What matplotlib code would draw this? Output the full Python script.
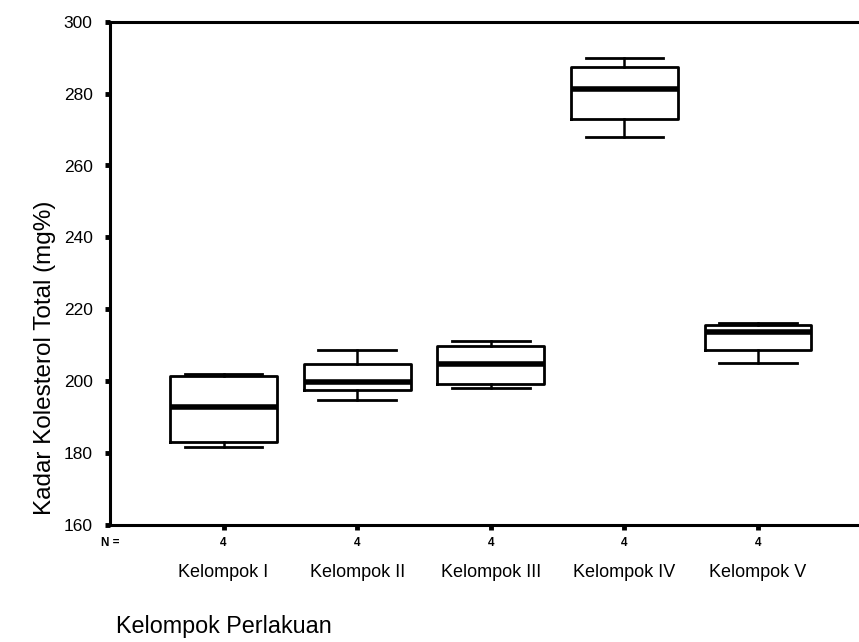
import matplotlib
matplotlib.use("Agg")
import matplotlib.pyplot as plt

plt.rcParams['font.family'] = ['Liberation Sans', 'DejaVu Sans']

# Total cholesterol per treatment group (mg%)
groups = ["Kelompok I", "Kelompok II", "Kelompok III", "Kelompok IV", "Kelompok V"]
n_counts = [4, 4, 4, 4, 4]
whisker_low = [181.7, 194.9, 198.0, 267.9, 205.1]
q1 = [183.0, 197.5, 199.1, 272.8, 208.8]
median = [192.7, 199.8, 204.8, 281.2, 213.7]
q3 = [201.4, 204.7, 209.8, 287.3, 215.5]
whisker_high = [202.0, 208.8, 211.2, 289.8, 216.3]

y_ticks = [160, 180, 200, 220, 240, 260, 280, 300]

W, H = 859, 642
left_px, top_px, bottom_px = 110, 21.7, 525
fig = plt.figure(figsize=(W / 100, H / 100), dpi=100)
ax = fig.add_axes([left_px / W, 1 - bottom_px / H, 1 - left_px / W,
                   (bottom_px - top_px) / H])

stats = []
for i, g in enumerate(groups):
    stats.append(dict(label=g, whislo=whisker_low[i], q1=q1[i], med=median[i],
                      q3=q3[i], whishi=whisker_high[i], fliers=[]))

positions = list(range(1, len(groups) + 1))
ax.bxp(stats, positions=positions, widths=0.8, showfliers=False,
       boxprops=dict(color="black", linewidth=2.0),
       whiskerprops=dict(color="black", linewidth=1.8),
       capprops=dict(color="black", linewidth=2.0),
       medianprops=dict(color="black", linewidth=4.0, solid_capstyle="butt"),
       capwidths=0.58)

ax.set_xlim(0.150, 5.756)
ax.set_ylim(160, 300)
ax.set_yticks(y_ticks)
ax.set_yticklabels([str(t) for t in y_ticks], fontsize=12.5)
ax.set_xticks(positions)
ax.set_xticklabels([])

for s in ["left", "bottom", "top"]:
    ax.spines[s].set_linewidth(2.2)
ax.spines["right"].set_visible(False)
ax.tick_params(axis="y", length=3.5, width=3.5, direction="out", pad=9)
ax.tick_params(axis="x", length=3.5, width=3.5, direction="out")

# Sample sizes and group names under the axis
xt = ax.get_xaxis_transform()
ax.text(0.150, -0.036, "N =", transform=xt,
        ha="center", va="center", fontsize=8.5, fontweight="bold")
for p, n, g in zip(positions, n_counts, groups):
    ax.text(p, -0.036, str(n), transform=xt,
            ha="center", va="center", fontsize=8.5, fontweight="bold")
    ax.text(p, -0.095, g, transform=xt,
            ha="center", va="center", fontsize=13)

fig.text(45 / W, 1 - 358 / H, "Kadar Kolesterol Total (mg%)", rotation=90,
         ha="center", va="center", fontsize=17.5)
fig.text(224 / W, 1 - 627 / H, "Kelompok Perlakuan", ha="center", va="center",
         fontsize=16.8)

fig.savefig("out.png", dpi=100, facecolor="white")
